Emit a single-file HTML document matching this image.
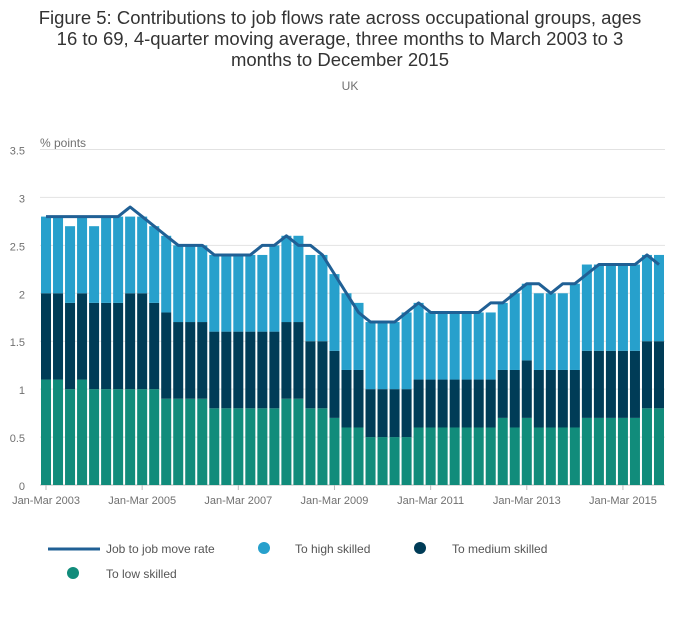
<!DOCTYPE html>
<html><head><meta charset="utf-8"><style>
body{margin:0;background:#fff;font-family:"Liberation Sans",sans-serif;}
svg{display:block}
</style></head><body>
<svg id="chart" width="700" height="635" xmlns="http://www.w3.org/2000/svg">
<text x="340" y="24" text-anchor="middle" font-size="18.5" fill="#333">Figure 5: Contributions to job flows rate across occupational groups, ages</text>
<text x="340" y="45" text-anchor="middle" font-size="18.5" fill="#333">16 to 69, 4-quarter moving average, three months to March 2003 to 3</text>
<text x="340" y="66" text-anchor="middle" font-size="18.5" fill="#333">months to December 2015</text>
<text x="350" y="90" text-anchor="middle" font-size="12" fill="#707070">UK</text>
<text x="40" y="147" font-size="12" fill="#707070">% points</text>
<g id="grid"></g><g id="bars"></g><g id="line"></g><g id="xaxis"></g>
<g>
<line x1="48" y1="549" x2="100" y2="549" stroke="#206095" stroke-width="3"/>
<text x="106" y="553" font-size="12" fill="#555">Job to job move rate</text>
<circle cx="264" cy="548" r="6" fill="#27a0cc"/>
<text x="295" y="553" font-size="12" fill="#555">To high skilled</text>
<circle cx="420" cy="548" r="6" fill="#003c57"/>
<text x="452" y="553" font-size="12" fill="#555">To medium skilled</text>
<circle cx="73" cy="573" r="6" fill="#118c7b"/>
<text x="106" y="578" font-size="12" fill="#555">To low skilled</text>
</g>
</svg>
<script>
const lowVals=[1.1,1.1,1.0,1.1,1.0,1.0,1.0,1.0,1.0,1.0,0.9,0.9,0.9,0.9,0.8,0.8,0.8,0.8,0.8,0.8,0.9,0.9,0.8,0.8,0.7,0.6,0.6,0.5,0.5,0.5,0.5,0.6,0.6,0.6,0.6,0.6,0.6,0.6,0.7,0.6,0.7,0.6,0.6,0.6,0.6,0.7,0.7,0.7,0.7,0.7,0.8,0.8];
const medVals=[0.9,0.9,0.9,0.9,0.9,0.9,0.9,1.0,1.0,0.9,0.9,0.8,0.8,0.8,0.8,0.8,0.8,0.8,0.8,0.8,0.8,0.8,0.7,0.7,0.7,0.6,0.6,0.5,0.5,0.5,0.5,0.5,0.5,0.5,0.5,0.5,0.5,0.5,0.5,0.6,0.6,0.6,0.6,0.6,0.6,0.7,0.7,0.7,0.7,0.7,0.7,0.7];
const highVals=[0.8,0.8,0.8,0.8,0.8,0.9,0.9,0.8,0.8,0.8,0.8,0.8,0.8,0.8,0.8,0.8,0.8,0.8,0.8,0.9,0.9,0.9,0.9,0.9,0.8,0.8,0.7,0.7,0.7,0.7,0.8,0.8,0.7,0.7,0.7,0.7,0.7,0.7,0.7,0.8,0.8,0.8,0.8,0.8,0.9,0.9,0.9,0.9,0.9,0.9,0.9,0.9];
const rateVals=[2.8,2.8,2.8,2.8,2.8,2.8,2.8,2.9,2.8,2.7,2.6,2.5,2.5,2.5,2.4,2.4,2.4,2.4,2.5,2.5,2.6,2.5,2.5,2.4,2.2,2.0,1.8,1.7,1.7,1.7,1.8,1.9,1.8,1.8,1.8,1.8,1.8,1.9,1.9,2.0,2.1,2.1,2.0,2.1,2.1,2.2,2.3,2.3,2.3,2.3,2.4,2.3];
const yTicks=[0,0.5,1,1.5,2,2.5,3,3.5];
const yTickLabels=["0","0.5","1","1.5","2","2.5","3","3.5"];
const xLabelIdx=[0,8,16,24,32,40,48];
const xLabels=["Jan-Mar 2003","Jan-Mar 2005","Jan-Mar 2007","Jan-Mar 2009","Jan-Mar 2011","Jan-Mar 2013","Jan-Mar 2015"];

const NS="http://www.w3.org/2000/svg";
const x0=40,x1=665,yBase=485,yTop=149.5,yMax=3.5;
const n=lowVals.length, pitch=(x1-x0)/n, bw=pitch-2;
const y=v=>yBase-(v/yMax)*(yBase-yTop);
const xc=i=>x0+pitch*i+pitch/2;
function mk(tag,attrs,parent){const e=document.createElementNS(NS,tag);for(const k in attrs)e.setAttribute(k,attrs[k]);parent.appendChild(e);return e;}
const grid=document.getElementById('grid');
yTicks.forEach((t,i)=>{
  const l=mk('line',{x1:x0,x2:x1,y1:y(t),y2:y(t),stroke:i==0?'#bbb':'#e2e2e2','stroke-width':1},grid);
  
  
  const tx=mk('text',{x:25,y:y(t)+5,'text-anchor':'end','font-size':11,fill:'#707070'},grid);
  tx.textContent=yTickLabels[i];
  
  
});
const bars=document.getElementById('bars');
for(let i=0;i<n;i++){
  const l=lowVals[i],m=medVals[i],h=highVals[i];
  const bx=xc(i)-bw/2;
  const r1=mk('rect',{x:bx,width:bw,y:y(l),height:y(0)-y(l),fill:'#118c7b'},bars);
  
  
  const r2=mk('rect',{x:bx,width:bw,y:y(l+m),height:y(l)-y(l+m),fill:'#003c57'},bars);
  
  
  const r3=mk('rect',{x:bx,width:bw,y:y(l+m+h),height:y(l+m)-y(l+m+h),fill:'#27a0cc'},bars);
  
  
}
const lg=document.getElementById('line');
const p=mk('polyline',{points:rateVals.map((v,i)=>xc(i)+','+y(v)).join(' '),fill:'none',stroke:'#206095','stroke-width':3,'stroke-linejoin':'round'},lg);


const xa=document.getElementById('xaxis');
xLabelIdx.forEach((idx,k)=>{
  const t=mk('line',{x1:xc(idx),x2:xc(idx),y1:yBase,y2:yBase+5,stroke:'#bbb'},xa);
  
  
  const tx=mk('text',{x:xc(idx),y:yBase+19,'text-anchor':'middle','font-size':11,fill:'#707070'},xa);
  tx.textContent=xLabels[k];
  
  
});
</script>
</body></html>
